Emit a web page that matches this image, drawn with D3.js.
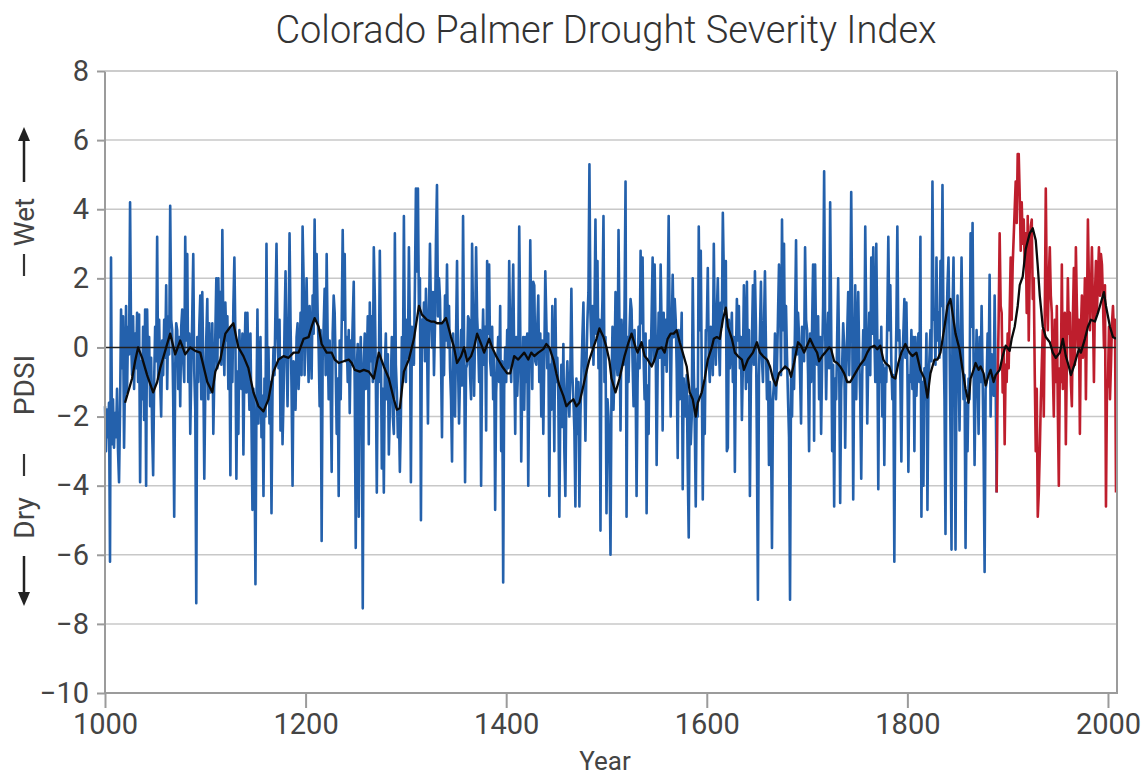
<!DOCTYPE html>
<html>
<head>
<meta charset="utf-8">
<script src="https://cdn.jsdelivr.net/npm/d3@7"></script>
<style>
  body { margin: 0; background: #fff; }
  text { font-family: Roboto, "Open Sans", sans-serif; }
</style>
</head>
<body>
<svg id="chart" width="1148" height="780"></svg>
<script>
// Tree-ring reconstruction (blue), one value per year from treeStart
const treeStart = 1000;
const treeRing = [
  -1.7,-3.0,-1.8,-2.6,-1.6,-6.2,2.6,-2.8,-1.5,-2.9,
  -1.9,-2.6,-1.2,-3.0,-3.9,-1.8,1.1,-0.6,0.9,-2.9,
  -0.8,1.2,-1.3,0.6,-0.2,4.2,0.3,-0.8,0.9,-1.2,
  0.4,-0.6,1.0,-1.0,0.95,-3.9,-0.4,-1.5,0.6,-2.1,
  1.1,-4.0,1.1,-0.8,0.3,-1.7,-0.3,-2.4,-3.7,-1.0,
  0.6,-0.4,3.2,-0.9,0.8,-1.0,-2.0,0.2,-0.8,0.8,
  -0.3,1.8,-1.2,0.9,-0.2,4.1,0.8,0.5,-1.5,-4.9,
  -0.6,0.7,0.5,-1.2,0.3,-1.7,0.6,1.1,-0.4,-1.0,
  3.2,0.2,2.7,-1.0,0.4,-2.5,-0.8,0.9,2.7,-0.7,
  -1.8,-7.4,0.3,-1.0,0.6,1.5,-1.5,1.6,-0.6,-3.8,
  // 1100
  -1.2,0.3,1.4,-1.5,0.7,-1.3,-0.5,0.7,-2.5,-0.8,
  0.4,2.0,-0.6,2.0,0.3,1.6,-0.5,3.4,0.4,-0.8,
  1.3,0.2,0.9,-1.2,0.5,-3.7,0.6,-1.0,1.2,2.6,
  0.3,-3.8,-0.7,-2.5,0.5,-0.6,-1.2,0.4,-3.1,-0.5,
  1.0,-1.3,1.0,-0.6,-1.8,0.4,-2.0,-4.7,-1.2,-2.8,
  -6.85,-1.6,1.1,-2.2,-0.8,0.3,-2.6,-1.4,-4.3,-0.9,
  -2.0,3.0,-1.5,0.0,-2.2,-1.0,-4.8,-1.3,0.0,-0.8,
  1.2,3.0,0.4,-0.6,0.8,-2.4,-0.3,-2.8,-1.5,0.6,
  2.2,-0.2,-1.7,0.4,3.3,0.7,-1.2,-4.0,-0.4,-0.5,
  -1.8,0.3,0.7,-1.2,-0.4,1.0,-0.8,3.5,2.0,-0.8,
  // 1200
  0.6,2.0,0.2,-1.0,1.2,0.3,-0.9,1.5,0.4,3.7,
  0.8,2.7,1.0,0.0,-1.7,0.5,-5.6,-0.4,0.6,1.7,
  -0.8,2.7,0.3,-1.5,0.2,-1.2,-3.6,0.4,1.5,1.0,
  -0.6,-2.5,-0.9,-4.3,0.2,-1.5,0.7,3.4,0.8,2.7,
  -0.4,0.3,-1.0,0.5,-1.9,0.2,-0.5,0.8,1.9,-1.2,
  -5.8,-0.6,0.1,-4.9,-0.8,0.3,-1.4,-7.55,-0.5,0.4,
  -1.2,-0.5,0.9,-2.8,1.3,-0.4,0.9,-1.0,2.9,1.5,
  -0.8,-4.2,-0.3,-1.0,2.8,0.2,-3.5,-1.2,-4.2,-0.6,
  0.4,-1.5,-0.2,-3.1,-1.8,-1.0,0.3,-2.0,-2.5,3.3,
  -0.5,-1.3,-2.6,-1.8,-3.6,-2.1,0.3,-1.0,3.8,0.0,
  // 1300
  -1.0,0.8,-0.3,2.9,0.5,-3.9,0.6,-0.2,-0.5,1.8,
  4.6,2.2,4.6,1.0,2.0,-5.0,0.8,0.0,1.3,-0.4,
  1.7,0.4,-2.2,0.9,3.0,1.0,0.0,1.6,-0.8,0.6,
  3.1,4.7,0.9,2.0,1.4,-0.3,-2.6,0.7,-0.8,1.5,
  0.2,2.4,0.0,1.2,-0.6,-1.5,-3.3,0.4,-1.2,-2.0,
  0.3,2.5,-0.5,-2.2,-0.8,0.5,-1.1,3.8,0.2,-3.9,
  -0.6,-0.5,0.9,0.8,-0.8,-1.5,3.0,0.6,-1.4,0.4,
  2.9,0.9,0.2,-1.0,0.5,-4.0,-0.3,1.1,-0.5,0.6,
  -2.4,2.5,0.4,2.4,-0.4,-0.8,0.6,-1.5,-0.2,-4.7,
  -1.3,-0.5,0.3,-1.0,1.2,-3.0,-0.4,-6.8,-1.2,0.0,
  // 1400
  -1.0,0.5,-0.6,2.5,0.2,-1.0,0.8,2.4,-0.3,-2.5,
  0.3,-1.4,-0.5,3.5,0.6,-3.3,-1.0,0.3,-1.8,0.3,
  -1.0,0.4,-4.0,-0.7,3.1,0.5,-1.2,1.9,1.8,-0.4,
  -0.5,0.6,1.5,-1.0,0.4,-2.0,0.2,-2.5,-0.3,2.2,
  0.8,-0.6,0.4,-4.3,-0.5,-1.8,1.2,-0.4,-3.0,1.4,
  -1.0,-0.3,-1.5,-4.9,-1.6,-0.5,-2.3,0.1,-3.0,-4.3,
  -1.2,-0.4,-1.5,-2.0,-0.6,1.7,-0.8,-1.5,-2.4,-4.6,
  -0.9,-2.5,-1.0,-4.6,-2.0,-0.8,0.3,1.3,-0.9,-2.7,
  -0.5,0.8,1.6,5.3,1.0,0.0,1.2,-0.5,0.9,3.7,
  0.4,2.5,-0.6,0.8,-5.3,0.2,1.4,3.8,-1.0,0.3,
  // 1500
  -4.8,-1.5,-2.0,-3.2,-6.0,-1.2,0.6,-1.8,-0.6,1.6,
  -0.4,-0.8,3.4,0.4,-2.4,0.8,-0.2,-0.5,1.1,4.8,
  -4.9,0.3,-1.0,0.5,1.4,1.1,-0.4,-1.7,0.5,-0.8,
  -4.3,-1.0,0.6,-0.6,2.8,0.7,2.6,-0.3,-1.5,0.4,
  -4.8,-1.1,-2.5,0.2,-0.5,0.9,2.6,-0.4,2.4,0.3,
  -3.4,-0.6,1.0,-0.3,2.4,0.5,-2.4,1.0,-0.5,0.8,
  -0.7,1.2,3.8,0.6,-2.0,0.4,2.1,0.3,1.4,0.8,
  -0.6,-3.2,0.5,-1.5,-0.2,1.0,-4.1,-0.9,-1.8,-2.0,
  -0.8,-3.5,-5.5,-1.4,-2.8,-2.0,2.0,-0.6,-2.2,-4.6,
  -1.2,-2.0,3.5,0.5,2.8,-0.8,-4.4,-1.0,-2.5,0.5,
  // 1600
  0.5,2.3,-0.4,-1.0,0.6,0.5,-0.8,3.0,0.4,-0.5,
  1.0,2.0,0.2,-0.8,1.3,0.6,3.9,2.1,1.1,2.5,
  -3.0,-2.9,0.8,-0.6,0.1,1.0,-1.0,0.3,-3.6,-0.4,
  1.4,0.2,1.2,-0.6,0.3,-2.1,-0.5,1.8,0.4,-1.2,
  1.9,-1.0,0.5,-4.3,-0.8,0.2,1.8,-0.5,2.2,0.6,
  -3.0,-7.3,-0.8,0.4,1.9,-0.3,-1.0,0.6,2.2,0.0,
  -1.5,-0.4,-3.4,-1.0,-2.2,-5.8,-1.5,-1.0,0.4,-1.5,
  -0.6,0.9,2.4,1.5,-0.8,3.7,0.5,3.0,-0.6,1.2,
  -0.3,-1.5,-2.6,-7.3,-0.9,-2.0,0.0,-1.2,0.7,3.1,
  -0.2,1.0,0.3,-0.8,-2.2,0.6,0.5,-0.4,2.9,0.8,
  // 1700
  0.5,-0.8,-3.0,0.4,-1.0,0.6,2.4,-2.7,2.4,0.2,
  -0.5,0.9,-1.5,0.3,-2.5,-0.4,1.2,5.1,0.6,-1.5,
  0.2,1.0,-0.6,4.2,0.8,-3.0,-0.5,-4.6,-0.9,-1.5,
  0.3,2.0,-0.4,-4.5,-1.2,-0.5,0.7,0.0,-2.9,-0.6,
  0.4,1.6,-0.8,1.0,4.5,0.8,-4.4,-0.5,1.8,-1.5,
  0.4,1.6,-0.3,-1.5,-3.8,-0.8,0.5,-0.5,3.5,0.7,
  -2.2,-0.3,1.0,-0.8,2.6,0.4,2.9,0.5,-1.0,3.0,
  0.3,-4.1,0.2,-1.0,0.6,-2.0,-0.5,-3.4,-0.6,-1.0,
  0.9,3.2,0.5,1.8,-0.4,-1.5,-0.8,-6.2,-1.0,0.6,
  3.5,0.2,0.5,-0.9,-3.3,-0.5,0.4,1.4,-0.3,1.3,
  // 1800
  -0.6,-3.6,-0.8,-1.0,0.5,-1.2,0.3,-3.0,0.3,-1.4,
  -0.5,0.4,-1.0,3.2,-4.9,-1.0,-4.0,-0.6,-1.5,0.4,
  -4.7,-1.1,-0.3,0.5,-0.4,4.8,0.8,1.0,-0.5,2.6,
  0.2,1.0,-0.3,2.5,1.2,4.7,0.4,-1.5,-5.4,0.6,
  1.8,2.6,0.3,-2.5,-5.85,1.0,2.6,-0.6,-5.85,-0.5,
  1.5,-0.4,-2.4,0.2,2.6,0.4,-1.5,-0.8,-5.8,-1.6,
  -3.0,-0.9,-1.5,3.3,0.6,3.6,-0.4,-3.4,-1.0,0.5,
  -0.7,-2.5,0.3,-1.0,1.2,-0.8,-3.0,-6.5,-1.2,-1.0,
  0.4,-0.8,2.1,-2.0,-0.2,-0.5,-1.4,1.5,-1.0,-4.2
];

// Instrumental record (red), one value per year from instStart
const instStart = 1890;
const instrumental = [
  -1.0,0.8,3.3,1.2,1.0,-1.3,0.0,-2.8,-0.5,-1.0,
  0.4,-0.6,1.0,2.6,0.8,2.4,3.2,4.0,4.8,3.6,
  5.6,5.6,4.4,2.8,4.2,3.0,3.7,2.4,3.3,1.0,
  3.8,0.2,2.3,3.5,3.7,1.4,2.0,-0.8,-3.0,-1.2,
  -4.9,-4.2,-3.0,-1.6,-0.5,0.5,-2.0,0.9,4.6,1.6,
  0.5,2.0,2.9,1.5,1.0,-0.6,-2.0,0.8,-1.0,1.2,
  -1.8,-4.0,-0.6,-1.0,2.4,-1.2,-0.5,1.0,-2.8,-0.4,
  2.0,0.4,1.0,-1.0,-1.7,0.8,2.3,-0.5,2.9,1.2,
  0.0,0.8,-2.5,0.5,1.5,-0.3,0.6,2.0,-1.5,0.9,
  3.7,1.8,0.5,1.6,2.9,1.2,-1.0,1.5,2.5,1.0,
  2.0,2.9,1.5,2.7,2.4,1.4,0.0,1.8,-4.6,-1.2,
  -1.0,0.6,-1.5,-0.5,0.7,1.2,0.3,0.8,-4.2
];

// Smoothed curve (black), [year, value]
const smoothed = [
  [1020,-1.6],[1024,-1.2],[1027,-0.9],[1030,-0.4],[1033,0.0],[1037,-0.3],[1042,-0.8],[1048,-1.3],[1052,-1.0],[1055,-0.6],
  [1060,-0.1],[1065,0.4],[1070,-0.2],[1075,0.2],[1080,-0.2],[1085,0.0],[1090,-0.1],[1095,-0.15],[1102,-1.0],[1107,-1.3],
  [1110,-0.7],[1115,-0.35],[1120,0.4],[1125,0.6],[1128,0.7],[1133,0.0],[1138,-0.25],[1143,-0.6],[1148,-1.3],[1153,-1.7],
  [1158,-1.85],[1163,-1.5],[1168,-0.7],[1173,-0.35],[1178,-0.25],[1183,-0.3],[1188,-0.15],[1193,-0.15],[1198,0.25],[1203,0.3],
  [1206,0.6],[1209,0.85],[1213,0.6],[1216,0.1],[1221,-0.15],[1226,-0.15],[1229,-0.35],[1233,-0.45],[1238,-0.4],[1243,-0.35],
  [1246,-0.45],[1249,-0.65],[1254,-0.7],[1258,-0.65],[1263,-0.7],[1268,-0.9],[1273,-0.15],[1278,-0.55],[1283,-0.9],[1288,-1.5],
  [1291,-1.8],[1294,-1.75],[1298,-0.7],[1303,-0.35],[1308,0.25],[1313,1.2],[1316,0.95],[1321,0.8],[1325,0.75],[1328,0.75],
  [1331,0.7],[1336,0.7],[1340,0.85],[1345,0.3],[1348,0.0],[1351,-0.45],[1355,-0.25],[1358,0.0],[1361,-0.4],[1365,-0.25],
  [1368,0.0],[1371,0.4],[1375,0.1],[1378,-0.15],[1383,0.25],[1386,0.0],[1390,-0.25],[1393,-0.4],[1396,-0.55],[1401,-0.75],
  [1404,-0.75],[1408,-0.25],[1412,-0.35],[1415,-0.25],[1418,-0.15],[1422,-0.35],[1425,-0.15],[1428,-0.25],[1432,-0.15],[1437,-0.05],
  [1440,0.1],[1443,0.0],[1447,-0.35],[1450,-0.75],[1453,-1.1],[1457,-1.4],[1460,-1.7],[1463,-1.6],[1467,-1.5],[1470,-1.7],
  [1473,-1.6],[1477,-1.1],[1480,-0.7],[1483,-0.35],[1487,0.0],[1490,0.25],[1493,0.55],[1497,0.3],[1500,0.0],[1503,-0.4],
  [1505,-0.9],[1509,-1.3],[1513,-0.9],[1518,-0.25],[1522,0.15],[1525,0.4],[1529,0.0],[1531,-0.15],[1535,0.15],[1538,-0.25],
  [1541,-0.35],[1545,-0.55],[1548,-0.35],[1551,-0.05],[1555,0.0],[1558,-0.15],[1561,0.25],[1564,0.4],[1567,0.4],[1570,0.5],
  [1573,0.15],[1576,-0.15],[1580,-0.55],[1583,-1.3],[1586,-1.5],[1589,-2.0],[1591,-1.6],[1595,-1.3],[1598,-0.9],[1601,-0.35],
  [1605,0.0],[1607,0.25],[1610,0.3],[1613,0.25],[1616,0.8],[1619,1.15],[1621,0.6],[1625,0.25],[1628,-0.15],[1631,-0.25],
  [1635,-0.35],[1637,-0.65],[1641,-0.35],[1646,-0.15],[1650,0.15],[1653,-0.15],[1656,-0.25],[1660,-0.35],[1663,-0.55],[1666,-0.9],
  [1669,-1.1],[1672,-0.75],[1675,-0.65],[1678,-0.55],[1682,-0.65],[1684,-0.85],[1687,-0.45],[1691,0.15],[1694,0.05],[1697,-0.15],
  [1700,0.05],[1703,0.25],[1707,0.0],[1710,-0.15],[1712,-0.4],[1715,-0.25],[1718,-0.15],[1722,0.0],[1724,-0.05],[1727,-0.4],
  [1730,-0.45],[1733,-0.55],[1737,-0.75],[1740,-1.0],[1743,-1.0],[1747,-0.8],[1750,-0.65],[1753,-0.5],[1757,-0.35],[1760,-0.15],
  [1763,0.0],[1767,0.05],[1770,-0.05],[1773,0.05],[1776,-0.35],[1778,-0.45],[1782,-0.55],[1785,-0.85],[1788,-0.9],[1791,-0.45],
  [1794,-0.15],[1798,0.1],[1802,-0.15],[1805,-0.25],[1809,-0.15],[1813,-0.65],[1817,-0.9],[1820,-1.45],[1823,-0.75],[1827,-0.35],
  [1830,-0.35],[1833,-0.15],[1837,0.6],[1840,1.2],[1843,1.4],[1845,1.0],[1848,0.4],[1852,-0.05],[1855,-0.65],[1858,-1.2],
  [1861,-1.6],[1863,-0.9],[1866,-0.65],[1868,-0.45],[1871,-0.65],[1873,-0.55],[1876,-0.75],[1878,-1.1],[1881,-0.8],[1883,-0.65],
  [1886,-1.0],[1888,-0.8],[1892,-0.65],[1895,-0.25],[1898,0.05],[1902,-0.1],[1904,0.25],[1907,0.6],[1910,1.2],[1912,1.8],
  [1915,2.05],[1918,2.85],[1922,3.3],[1925,3.45],[1928,3.1],[1930,2.35],[1932,1.5],[1935,0.6],[1938,0.3],[1942,0.15],
  [1945,-0.15],[1948,-0.3],[1952,-0.15],[1955,0.25],[1958,-0.25],[1961,-0.55],[1963,-0.8],[1966,-0.55],[1968,-0.35],[1971,-0.05],
  [1973,-0.15],[1977,0.25],[1980,0.6],[1983,0.8],[1987,0.75],[1990,1.0],[1993,1.3],[1996,1.6],[1998,1.2],[2002,0.6],
  [2005,0.3],[2008,0.25]
];

const yTicks = [-10, -8, -6, -4, -2, 0, 2, 4, 6, 8];
const xTicks = [1000, 1200, 1400, 1600, 1800, 2000];

const svg = d3.select('#chart');
const plot = { left: 105, right: 1117, top: 71, bottom: 693 };

const x = d3.scaleLinear().domain([1000, 2009]).range([plot.left, plot.right]);
const y = d3.scaleLinear().domain([-10, 8]).range([plot.bottom, plot.top]);

const frameColor = '#9b9b9b';
const labelColor = '#444';

// gridlines
svg.append('g')
  .selectAll('line')
  .data(yTicks.filter(d => d !== -10 && d !== 0))
  .enter().append('line')
  .attr('x1', plot.left).attr('x2', plot.right)
  .attr('y1', d => y(d)).attr('y2', d => y(d))
  .attr('stroke', '#c8c8c8')
  .attr('stroke-width', 1.5);

// y axis
const yAxis = svg.append('g')
  .attr('transform', `translate(${plot.left},0)`)
  .call(d3.axisLeft(y).tickValues(yTicks).tickSize(8).tickPadding(8));
yAxis.select('.domain').remove();
yAxis.selectAll('line').attr('stroke', frameColor).attr('stroke-width', 2);
yAxis.selectAll('text')
  .attr('fill', labelColor)
  .style('font-size', '29px');

// x axis
const xAxis = svg.append('g')
  .attr('transform', `translate(0,${plot.bottom})`)
  .call(d3.axisBottom(x).tickValues(xTicks).tickFormat(d3.format('d')).tickSize(15).tickPadding(5));
xAxis.select('.domain').remove();
xAxis.selectAll('line').attr('stroke', frameColor).attr('stroke-width', 2);
xAxis.selectAll('text')
  .attr('fill', labelColor)
  .style('font-size', '29px');

// series
const treeData = treeRing.map((v, i) => [treeStart + i, v]);
const instData = [treeData[treeData.length - 1]].concat(instrumental.map((v, i) => [instStart + i, v]));

const line = d3.line().x(d => x(d[0])).y(d => y(d[1]));

svg.append('path')
  .datum(treeData)
  .attr('d', line)
  .attr('fill', 'none')
  .attr('stroke', '#2461ac')
  .attr('stroke-width', 2.6)
  .attr('stroke-linejoin', 'round');

svg.append('path')
  .datum(instData)
  .attr('d', line)
  .attr('fill', 'none')
  .attr('stroke', '#be1e2d')
  .attr('stroke-width', 2.6)
  .attr('stroke-linejoin', 'round');

// zero line
svg.append('line')
  .attr('x1', plot.left).attr('x2', plot.right)
  .attr('y1', y(0)).attr('y2', y(0))
  .attr('stroke', '#222')
  .attr('stroke-width', 1.5);

svg.append('path')
  .datum(smoothed)
  .attr('d', line)
  .attr('fill', 'none')
  .attr('stroke', '#0a0a0a')
  .attr('stroke-width', 2.3)
  .attr('stroke-linejoin', 'round');

// frame (left, right, bottom)
svg.append('path')
  .attr('d', `M${plot.left},${plot.top}V${plot.bottom}H${plot.right}V${plot.top}`)
  .attr('fill', 'none')
  .attr('stroke', frameColor)
  .attr('stroke-width', 2);
svg.append('line')
  .attr('x1', plot.left).attr('x2', plot.right)
  .attr('y1', plot.top).attr('y2', plot.top)
  .attr('stroke', '#c8c8c8')
  .attr('stroke-width', 1.5);

// title and axis titles
svg.append('text')
  .attr('x', 606).attr('y', 43)
  .attr('text-anchor', 'middle')
  .attr('fill', '#333')
  .style('font-size', '38px')
  .style('font-weight', 300)
  .text('Colorado Palmer Drought Severity Index');

svg.append('text')
  .attr('x', 605).attr('y', 770)
  .attr('text-anchor', 'middle')
  .attr('fill', labelColor)
  .style('font-size', '26px')
  .text('Year');

// left side labels: "— Wet →", "PDSI", "← Dry —"
const sideX = 24;
const side = svg.append('g');
[['Wet', 222], ['PDSI', 385], ['Dry', 518]].forEach(([t, cy]) => {
  side.append('text')
    .attr('transform', `translate(${sideX + 10},${cy}) rotate(-90)`)
    .attr('text-anchor', 'middle')
    .attr('fill', labelColor)
    .style('font-size', '28px')
    .text(t);
});
// dashes
[[254, 276], [454, 476]].forEach(([a, b]) => {
  side.append('line')
    .attr('x1', sideX).attr('x2', sideX)
    .attr('y1', a).attr('y2', b)
    .attr('stroke', '#333').attr('stroke-width', 2.2);
});
// arrows
function arrow(y0, y1) {
  const dir = Math.sign(y1 - y0);
  side.append('line')
    .attr('x1', sideX).attr('x2', sideX)
    .attr('y1', y0).attr('y2', y1 - dir * 8)
    .attr('stroke', '#222').attr('stroke-width', 2.5);
  side.append('path')
    .attr('d', `M${sideX},${y1}L${sideX - 6},${y1 - dir * 14}L${sideX + 6},${y1 - dir * 14}Z`)
    .attr('fill', '#222');
}
arrow(182, 127);
arrow(556, 606);
</script>
</body>
</html>
